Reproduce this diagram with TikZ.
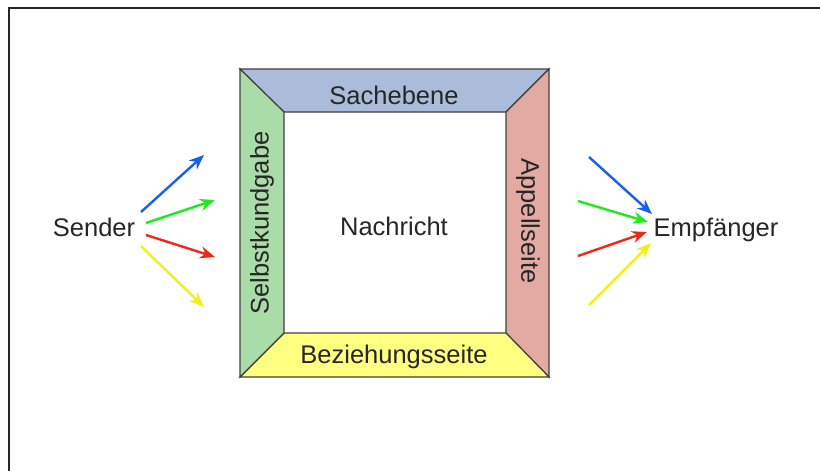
\documentclass[tikz,border=0pt]{standalone}
\usepackage{fontspec}
\setmainfont{Liberation Sans}
\usetikzlibrary{arrows.meta}

\definecolor{sachblue}{RGB}{170,188,217}
\definecolor{selbstgreen}{RGB}{170,220,168}
\definecolor{appellred}{RGB}{226,170,160}
\definecolor{bezyellow}{RGB}{255,255,128}
\definecolor{arrblue}{RGB}{25,95,235}
\definecolor{arrgreen}{RGB}{30,235,30}
\definecolor{arrred}{RGB}{240,40,25}
\definecolor{arryellow}{RGB}{240,240,30}

\tikzset{
  band/.style={draw=black!75, line width=1.2pt, line join=miter},
  msg/.style={font=\fontsize{25.5}{30}\selectfont, text=black!85, inner sep=0pt},
  ray/.style={line width=2.4pt, -{Stealth[length=15pt, width=12pt]}}
}

\begin{document}
\begin{tikzpicture}[x=1pt, y=-1pt]

    % Fix the page to the size of the reference
    \useasboundingbox (0, 0) rectangle (820, 471);

    % Frame, only its top and left sides are visible
    \draw[line width=2pt, black!85] (9, 471) -- (9, 8) -- (820, 8);

    % Outer corners of the square
    \coordinate (TL) at (240, 69);
    \coordinate (TR) at (549, 69);
    \coordinate (BR) at (549, 377);
    \coordinate (BL) at (240, 377);

    % Inner corners of the square
    \coordinate (ITL) at (284, 112);
    \coordinate (ITR) at (506, 112);
    \coordinate (IBR) at (506, 333);
    \coordinate (IBL) at (284, 333);

    % The four sides of the message
    \filldraw[band, fill=sachblue] (TL) -- (TR) -- (ITR) -- (ITL) -- cycle;
    \filldraw[band, fill=appellred] (TR) -- (BR) -- (IBR) -- (ITR) -- cycle;
    \filldraw[band, fill=bezyellow] (BR) -- (BL) -- (IBL) -- (IBR) -- cycle;
    \filldraw[band, fill=selbstgreen] (BL) -- (TL) -- (ITL) -- (IBL) -- cycle;

    % Labels of the sides
    \node[msg] (sach) at (394, 95) {Sachebene};
    \node[msg] (bez) at (394, 357) {Beziehungsseite};
    \node[msg, rotate=90] (selbst) at (262, 223) {Selbstkundgabe};
    \node[msg, rotate=-90] (appell) at (528, 221) {Appellseite};
    \node[msg] (nachricht) at (394, 226) {Nachricht};

    % Sender and receiver
    \node[msg, anchor=base] (sender) at (94, 236) {Sender};
    \node[msg, anchor=base] (empf) at (716, 236) {Empfänger};

    % Start and end points of the rays from the sender
    \coordinate (s1) at (141, 212);
    \coordinate (s2) at (146, 223);
    \coordinate (s3) at (146, 235);
    \coordinate (s4) at (141, 246);
    \coordinate (t1) at (204, 155);
    \coordinate (t2) at (215, 200);
    \coordinate (t3) at (215, 257);
    \coordinate (t4) at (204, 307);

    \draw[ray, arrblue] (s1) -- (t1);
    \draw[ray, arrgreen] (s2) -- (t2);
    \draw[ray, arrred] (s3) -- (t3);
    \draw[ray, arryellow] (s4) -- (t4);

    % Start and end points of the rays into the receiver
    \coordinate (u1) at (589, 157);
    \coordinate (u2) at (578, 201);
    \coordinate (u3) at (578, 256);
    \coordinate (u4) at (589, 305);
    \coordinate (v1) at (652, 214);
    \coordinate (v2) at (648, 222);
    \coordinate (v3) at (647, 232);
    \coordinate (v4) at (651, 243);

    \draw[ray, arrblue] (u1) -- (v1);
    \draw[ray, arrgreen] (u2) -- (v2);
    \draw[ray, arrred] (u3) -- (v3);
    \draw[ray, arryellow] (u4) -- (v4);

\end{tikzpicture}
\end{document}
